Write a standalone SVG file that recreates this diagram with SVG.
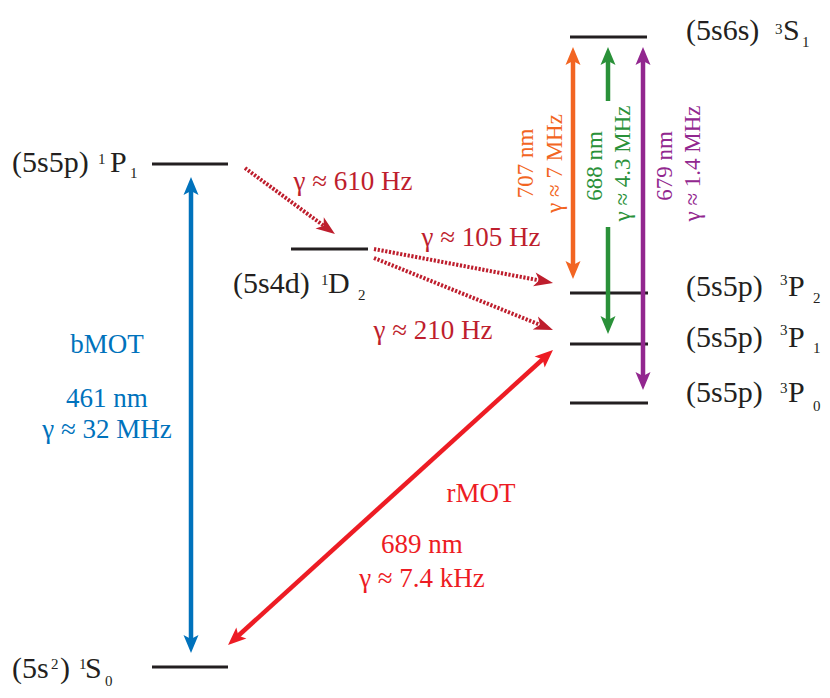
<svg xmlns="http://www.w3.org/2000/svg" width="830" height="698" viewBox="0 0 830 698">
<style>
  .lvl { stroke: #231f20; stroke-width: 3; }
  text { font-family: 'Liberation Serif', 'DejaVu Serif', serif; }
  .lbl { font-size: 30px; fill: #231f20; }
  .sm { font-size: 15px; }
  .t { font-size: 27px; }
  .tv { font-size: 23px; text-anchor: middle; }
  .ctr { text-anchor: middle; }
  .dot { fill: none; stroke: #be1e2d; stroke-width: 4; stroke-dasharray: 2.2 1.6; }
  .sol { fill: none; stroke-width: 4.5; }
</style>
<defs>
  <marker id="aB" viewBox="-10 -8 20 16" refX="0" refY="0" markerWidth="20" markerHeight="16" markerUnits="userSpaceOnUse" orient="auto-start-reverse"><path d="M9,0 L-9,-7.5 L-5,0 L-9,7.5 Z" fill="#0072bc"/></marker>
  <marker id="aR" viewBox="-10 -8 20 16" refX="0" refY="0" markerWidth="20" markerHeight="16" markerUnits="userSpaceOnUse" orient="auto-start-reverse"><path d="M9,0 L-9,-7.5 L-5,0 L-9,7.5 Z" fill="#ed1c24"/></marker>
  <marker id="aO" viewBox="-10 -8 20 16" refX="0" refY="0" markerWidth="20" markerHeight="16" markerUnits="userSpaceOnUse" orient="auto-start-reverse"><path d="M9,0 L-9,-7.5 L-5,0 L-9,7.5 Z" fill="#f26522"/></marker>
  <marker id="aG" viewBox="-10 -8 20 16" refX="0" refY="0" markerWidth="20" markerHeight="16" markerUnits="userSpaceOnUse" orient="auto-start-reverse"><path d="M9,0 L-9,-7.5 L-5,0 L-9,7.5 Z" fill="#2a9139"/></marker>
  <marker id="aP" viewBox="-10 -8 20 16" refX="0" refY="0" markerWidth="20" markerHeight="16" markerUnits="userSpaceOnUse" orient="auto-start-reverse"><path d="M9,0 L-9,-7.5 L-5,0 L-9,7.5 Z" fill="#92278f"/></marker>
  <marker id="aD" viewBox="-10 -8 22 16" refX="0" refY="0" markerWidth="22" markerHeight="16" markerUnits="userSpaceOnUse" orient="auto"><path d="M10,0 L-9,-7 L-4,0 L-9,7 Z" fill="#be1e2d"/></marker>
</defs>

<g id="level-3S1">
  <line class="lvl" x1="570" y1="37" x2="647" y2="37"/>
  <text class="lbl" x="686" y="40">(5s6s)<tspan class="sm" x="775" y="34">3</tspan><tspan x="783" y="40">S</tspan><tspan class="sm" x="802" y="47">1</tspan></text>
</g>
<g id="level-1P1">
  <line class="lvl" x1="152" y1="164" x2="228" y2="164"/>
  <text class="lbl" x="12" y="172">(5s5p)<tspan class="sm" x="98" y="164">1</tspan><tspan x="110" y="172">P</tspan><tspan class="sm" x="130" y="178">1</tspan></text>
</g>
<g id="level-1D2">
  <line class="lvl" x1="291" y1="249" x2="368" y2="249"/>
  <text class="lbl" x="233" y="293">(5s4d)<tspan class="sm" x="321" y="285">1</tspan><tspan x="328" y="293">D</tspan><tspan class="sm" x="358" y="300">2</tspan></text>
</g>
<g id="level-3P2">
  <line class="lvl" x1="570" y1="293" x2="648" y2="293"/>
  <text class="lbl" x="686" y="296">(5s5p)<tspan class="sm" x="780" y="285">3</tspan><tspan x="788" y="296">P</tspan><tspan class="sm" x="813" y="303">2</tspan></text>
</g>
<g id="level-3P1">
  <line class="lvl" x1="570" y1="344" x2="648" y2="344"/>
  <text class="lbl" x="686" y="347">(5s5p)<tspan class="sm" x="780" y="335">3</tspan><tspan x="788" y="347">P</tspan><tspan class="sm" x="813" y="353">1</tspan></text>
</g>
<g id="level-3P0">
  <line class="lvl" x1="570" y1="403" x2="648" y2="403"/>
  <text class="lbl" x="686" y="402">(5s5p)<tspan class="sm" x="780" y="393">3</tspan><tspan x="788" y="402">P</tspan><tspan class="sm" x="813" y="411">0</tspan></text>
</g>
<g id="level-1S0">
  <line class="lvl" x1="152" y1="667" x2="228" y2="667"/>
  <text class="lbl" x="12" y="678">(5s<tspan class="sm" x="51" y="669">2</tspan><tspan x="60" y="678">)</tspan><tspan class="sm" x="79" y="669">1</tspan><tspan x="85" y="678">S</tspan><tspan class="sm" x="105" y="686">0</tspan></text>
</g>

<g id="connectors">
  <line class="sol" stroke="#0072bc" x1="191" y1="186" x2="191" y2="644" marker-start="url(#aB)" marker-end="url(#aB)"/>
  <line class="sol" stroke="#ed1c24" x1="234.7" y1="639" x2="546.3" y2="356" marker-start="url(#aR)" marker-end="url(#aR)"/>
  <line class="sol" stroke="#f26522" x1="573" y1="56" x2="573" y2="270" marker-start="url(#aO)" marker-end="url(#aO)"/>
  <line class="sol" stroke="#2a9139" x1="608" y1="101" x2="608" y2="56" marker-end="url(#aG)"/>
  <line class="sol" stroke="#2a9139" x1="608" y1="227" x2="608" y2="325" marker-end="url(#aG)"/>
  <line class="sol" stroke="#92278f" x1="643" y1="56" x2="643" y2="381" marker-start="url(#aP)" marker-end="url(#aP)"/>
  <line class="dot" x1="245" y1="168" x2="326.9" y2="228.1" marker-end="url(#aD)"/>
  <line class="dot" x1="374" y1="249" x2="543.2" y2="281.1" marker-end="url(#aD)"/>
  <line class="dot" x1="374" y1="258" x2="543.7" y2="326.3" marker-end="url(#aD)"/>
</g>

<g id="labels">
  <text class="t ctr" fill="#0072bc" x="107" y="353">bMOT</text>
  <text class="t ctr" fill="#0072bc" x="107" y="407">461 nm</text>
  <text class="t ctr" fill="#0072bc" x="107" y="438">γ ≈ 32 MHz</text>
  <text class="t ctr" fill="#ed1c24" x="481" y="502">rMOT</text>
  <text class="t ctr" fill="#ed1c24" x="422" y="553">689 nm</text>
  <text class="t ctr" fill="#ed1c24" x="422" y="587">γ ≈ 7.4 kHz</text>
  <text class="t ctr" fill="#be1e2d" x="353" y="190">γ ≈ 610 Hz</text>
  <text class="t ctr" fill="#be1e2d" x="481" y="246">γ ≈ 105 Hz</text>
  <text class="t ctr" fill="#be1e2d" x="433" y="339">γ ≈ 210 Hz</text>
  <text class="tv" fill="#f26522" transform="translate(533,163.5) rotate(-90)">707 nm</text>
  <text class="tv" fill="#f26522" transform="translate(562,163.5) rotate(-90)">γ ≈ 7 MHz</text>
  <text class="tv" fill="#2a9139" transform="translate(602,166) rotate(-90)">688 nm</text>
  <text class="tv" fill="#2a9139" transform="translate(630,163.5) rotate(-90)">γ ≈ 4.3 MHz</text>
  <text class="tv" fill="#92278f" transform="translate(672,166) rotate(-90)">679 nm</text>
  <text class="tv" fill="#92278f" transform="translate(700,163.5) rotate(-90)">γ ≈ 1.4 MHz</text>
</g>
</svg>
